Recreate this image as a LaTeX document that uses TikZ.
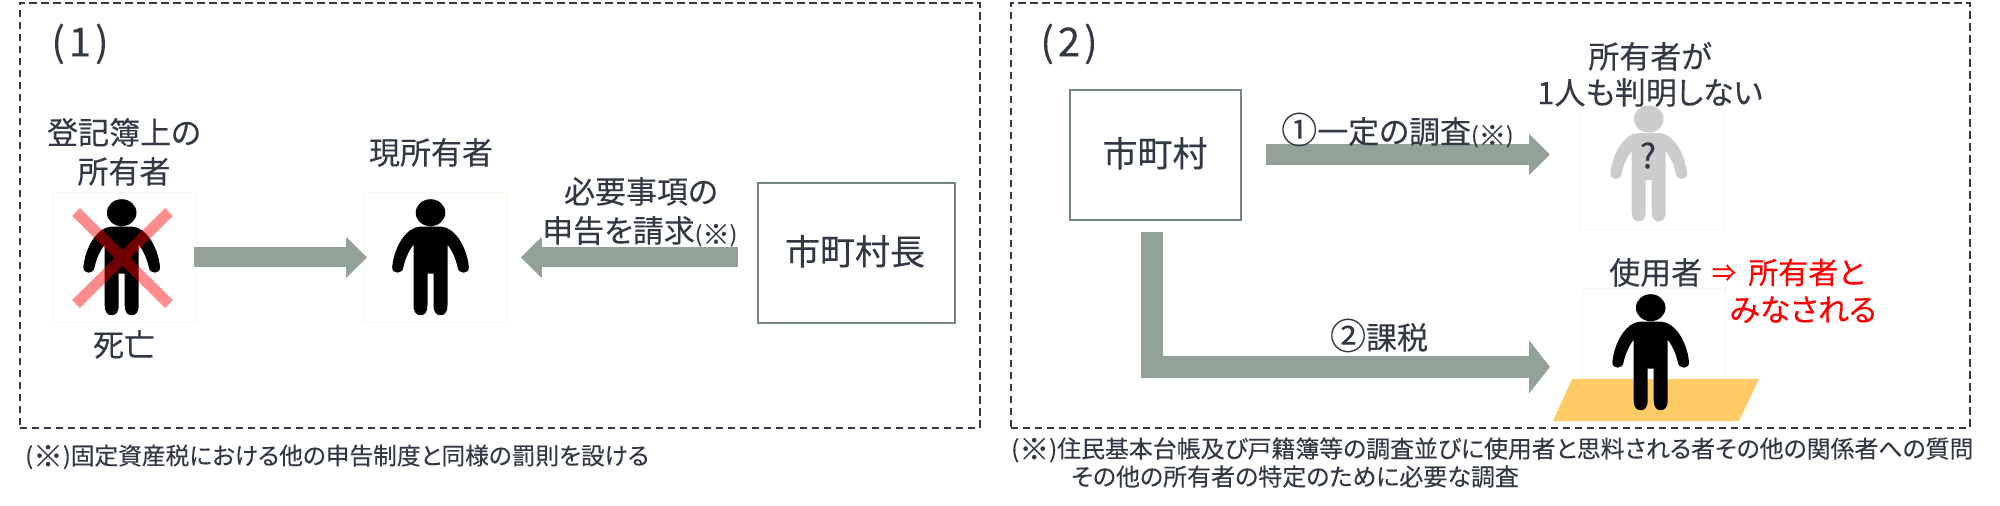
\documentclass[tikz,border=0pt]{standalone}
\usepackage{fontspec}
\setmainfont[RawFeature=+palt,FakeBold=0.25]{Noto Sans CJK JP}
\usetikzlibrary{arrows.meta}
\definecolor{inkc}{HTML}{323844}
\definecolor{arrowc}{HTML}{93A299}
\definecolor{boxc}{HTML}{75867B}
\definecolor{imgc}{HTML}{F8F8EA}
\definecolor{floorc}{HTML}{FFCB66}
\newcommand{\refmark}[2]{{\fontsize{#1}{#1}\selectfont(\hspace{#2pt}\raisebox{-0.1em}{\scalebox{1.25}{※}}\hspace{#2pt})}}
\tikzset{
  txt/.style={inner sep=0pt,text=inkc,font=\fontsize{#1}{#1}\selectfont,text height=0.86*#1pt,text depth=0.14*#1pt},
  frame/.style={draw=inkc,line width=1.5pt,dash pattern=on 7.5pt off 4.5pt,minimum width=#1,minimum height=425pt,inner sep=0pt,anchor=north west},
  actor/.style={draw=boxc,line width=2pt,fill=white,inner sep=0pt,anchor=north west},
  picbox/.style={draw=imgc,line width=0.8pt,fill=white,minimum width=143pt,minimum height=130pt,inner sep=0pt,anchor=north west},
  flow/.style={draw=arrowc,line width=#1,line join=miter,-{Triangle[length=21pt,width=40pt]}},
  person/.pic={
    \path[pic actions] (0,0) ellipse[x radius=14.8pt,y radius=13.5pt]
      (-11,14) .. controls (-24,15) and (-36,33) .. (-38.3,54)
      .. controls (-39,62) and (-27.5,62) .. (-27,54)
      .. controls (-25,45) and (-21,37) .. (-17,32) -- (-17,92)
      .. controls (-17,100) and (-14,102.5) .. (-10,102.5)
      .. controls (-6,102.5) and (-3,100) .. (-3,92) -- (-3,61) -- (3,61) -- (3,92)
      .. controls (3,100) and (6,102.5) .. (10,102.5)
      .. controls (14,102.5) and (17,100) .. (17,92) -- (17,32)
      .. controls (21,37) and (25,45) .. (27,54)
      .. controls (27.5,62) and (39,62) .. (38.3,54)
      .. controls (36,33) and (24,15) .. (11,14) -- cycle;
  }
}
\begin{document}
\begin{tikzpicture}[x=1pt,y=-1pt]
\useasboundingbox (0,0) rectangle (2000,506);
% frames
\node[frame=960pt] (frameA) at (19,2) {};
\node[frame=959pt] (frameB) at (1010,2) {};
\node[txt=40,anchor=center] (numA) at (80,42) {(\hspace{4pt}1\hspace{4pt})};
\node[txt=40,anchor=center] (numB) at (1069,42) {(\hspace{4pt}2\hspace{4pt})};
% image boxes
\node[picbox] (dead) at (53,192) {};
\node[picbox] (now) at (363,192) {};
\node[picbox] (unk) at (1580,99) {};
\node[picbox,minimum height=91pt] (user) at (1582,288) {};
% actor boxes
\node[actor,minimum width=197pt,minimum height=140pt] (mayor) at (757,182) {};
\node[actor,minimum width=171pt,minimum height=130pt] (city) at (1069,89) {};
\node[txt=35,anchor=center] (mayort) at (855,252) {市町村長};
\node[txt=35,anchor=center] (cityt) at (1155,154) {市町村};
% floor
\fill[floorc] (1572,379) -- (1759,379) -- (1739,421) -- (1553,421) -- cycle;
% people
\pic[fill=black] at (121.7,212.7) {person};
\pic[fill=black] at (430.5,212.7) {person};
\pic[fill=black!20] at (1648.7,119) {person};
\pic[fill=black] at (1650.7,307.7) {person};
\draw[red,opacity=0.45,line width=11pt] (76,212) -- (169,304) (169,212) -- (76,304);
\node[txt=34,anchor=center] (q) at (1648,156) {?};
% arrows
\draw[flow=20pt,shorten <=-3pt,shorten >=-4pt] (dead.east) -- (now.west);
\draw[flow=20pt,shorten <=19pt,shorten >=14pt] (mayor.west |- now.east) -- (now.east);
\draw[flow=21pt,shorten <=24pt,shorten >=30pt] (city.east |- 0,154.5) -- (unk.west |- 0,154.5);
\draw[draw=arrowc,line width=22pt,line join=miter,shorten <=11pt,shorten >=32pt,-{Triangle[length=21pt,width=52pt]}]
  ([xshift=-3.5pt]city.south) |- ([yshift=-33pt]user.west);
% labels
\node[txt=31,anchor=center] (l1) at (124,133) {登記簿上の};
\node[txt=31,anchor=center] (l2) at (124,172) {所有者};
\node[txt=31,anchor=center] (l3) at (124,345) {死亡};
\node[txt=31,anchor=center] (l4) at (431,153) {現所有者};
\node[txt=31,anchor=center] (l5) at (641,192) {必要事項の};
\node[txt=31,anchor=west] (l6) at (542,231) {申告を請求\refmark{22}{0}};
\node[txt=31,anchor=center] (l7) at (1650,57) {所有者が};
\node[txt=31,anchor=center] (l8) at (1650,93) {1人も判明しない};
\node[txt=31,anchor=west] (l9) at (1281,132) {{\fontsize{36}{36}\selectfont ①}一定の調査\refmark{22}{0}};
\node[txt=31,anchor=center] (l10) at (1379,338) {{\fontsize{36}{36}\selectfont ②}課税};
\node[txt=31,anchor=west] (l11) at (1609,273) {使用者};
\node[txt=24,anchor=center,text=red] (l12) at (1724,273) {⇒};
\node[txt=30,anchor=west,text=red] (l14) at (1748,273) {所有者と};
\node[txt=31,anchor=center,text=red] (l13) at (1803,310) {みなされる};
% notes
\node[txt=23.7,anchor=west] (n1) at (25,456) {\refmark{23.7}{0}固定資産税における他の申告制度と同様の罰則を設ける};
\node[txt=23.9,anchor=west] (n2) at (1011,449) {\refmark{23.9}{0}住民基本台帳及び戸籍簿等の調査並びに使用者と思料される者その他の関係者への質問};
\node[txt=24,anchor=west] (n3) at (1071,477) {その他の所有者の特定のために必要な調査};
\end{tikzpicture}
\end{document}
